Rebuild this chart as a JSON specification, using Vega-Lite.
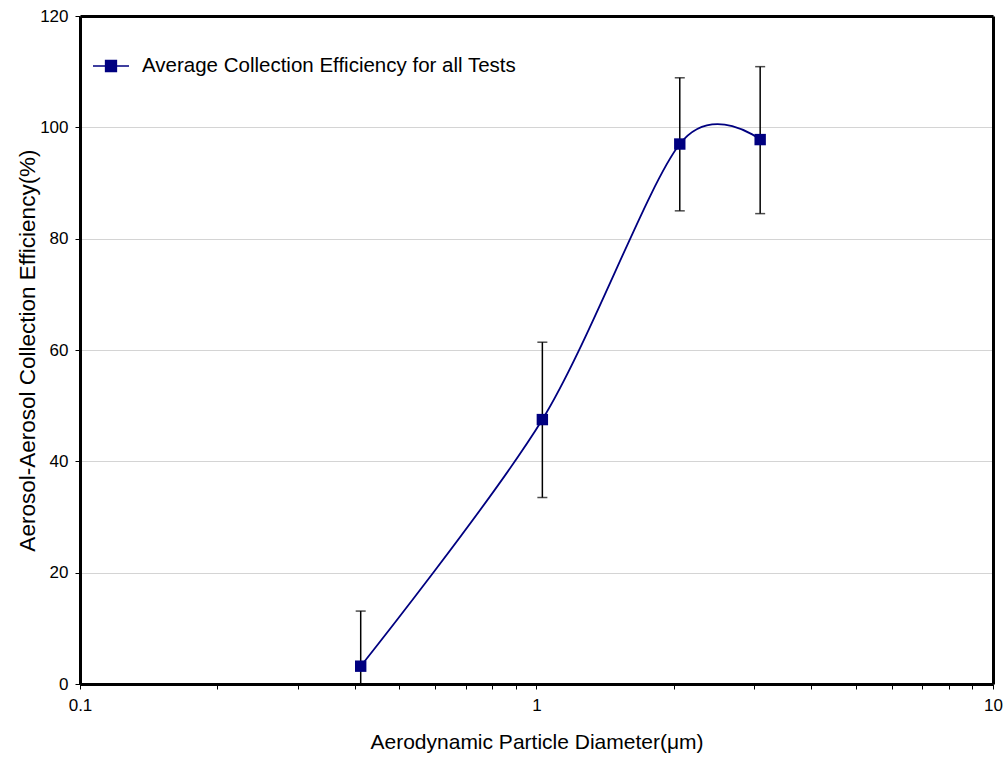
{
  "$schema": "https://vega.github.io/schema/vega-lite/v6.json",
  "autosize": {"type": "none"},
  "padding": {"left": 80, "top": 16, "right": 12, "bottom": 73},
  "width": 913,
  "height": 668,
  "background": "white",
  "config": {
    "font": "Liberation Sans",
    "view": {"stroke": null},
    "axis": {
      "domain": true,
      "domainColor": "#000000",
      "domainWidth": 3,
      "tickColor": "#000000",
      "tickSize": 5,
      "tickWidth": 1,
      "labelColor": "#000000",
      "titleColor": "#000000",
      "labelFont": "Liberation Sans",
      "titleFont": "Liberation Sans",
      "titleFontWeight": "normal",
      "labelFontSize": 17
    }
  },
  "data": {
    "values": [
      {"series": "Average Collection Efficiency for all Tests", "d": 0.412, "e": 3.2, "lo": -7, "hi": 13.1},
      {"series": "Average Collection Efficiency for all Tests", "d": 1.03, "e": 47.5, "lo": 33.5, "hi": 61.4},
      {"series": "Average Collection Efficiency for all Tests", "d": 2.06, "e": 97.0, "lo": 85.0, "hi": 108.9},
      {"series": "Average Collection Efficiency for all Tests", "d": 3.09, "e": 97.8, "lo": 84.5, "hi": 110.9}
    ]
  },
  "resolve": {"axis": {"x": "independent", "y": "independent"}},
  "layer": [
    {
      "mark": {"type": "rule", "color": "#000000", "strokeWidth": 1.5, "clip": true},
      "encoding": {
        "x": {
          "field": "d",
          "type": "quantitative",
          "scale": {"type": "log", "domain": [0.1, 10], "nice": false},
          "axis": {
            "orient": "bottom",
            "title": "Aerodynamic Particle Diameter(μm)",
            "titleFontSize": 21,
            "titlePadding": 18,
            "labelPadding": 8,
            "grid": false,
            "values": [0.1, 0.2, 0.3, 0.4, 0.5, 0.6, 0.7, 0.8, 0.9, 1, 2, 3, 4, 5, 6, 7, 8, 9, 10],
            "labelExpr": "datum.value == 0.1 ? '0.1' : datum.value == 1 ? '1' : datum.value == 10 ? '10' : ''",
            "labelFlush": false,
            "labelOverlap": false
          }
        },
        "y": {
          "field": "lo",
          "type": "quantitative",
          "scale": {"domain": [0, 120], "nice": false},
          "axis": {
            "orient": "left",
            "title": "Aerosol-Aerosol Collection Efficiency(%)",
            "titleFontSize": 22.5,
            "titlePadding": 0,
            "labelPadding": 7,
            "values": [0, 20, 40, 60, 80, 100, 120],
            "grid": true,
            "gridColor": "#d4d4d4",
            "gridWidth": 1
          }
        },
        "y2": {"field": "hi"}
      }
    },
    {
      "mark": {"type": "tick", "color": "#000000", "thickness": 1.5, "size": 10, "orient": "horizontal", "clip": true},
      "encoding": {
        "x": {
          "field": "d",
          "type": "quantitative",
          "axis": {"orient": "top", "labels": false, "ticks": false, "title": null, "grid": false}
        },
        "y": {
          "field": "hi",
          "type": "quantitative",
          "axis": {"orient": "right", "labels": false, "ticks": false, "title": null, "grid": false}
        }
      }
    },
    {
      "mark": {"type": "tick", "color": "#000000", "thickness": 1.5, "size": 10, "orient": "horizontal", "clip": true},
      "encoding": {
        "x": {"field": "d", "type": "quantitative", "axis": null},
        "y": {"field": "lo", "type": "quantitative", "axis": null}
      }
    },
    {
      "mark": {"type": "line", "color": "#000080", "strokeWidth": 1.8, "interpolate": "cardinal", "tension": 0.1},
      "encoding": {
        "x": {"field": "d", "type": "quantitative", "axis": null},
        "y": {"field": "e", "type": "quantitative", "axis": null}
      }
    },
    {
      "mark": {"type": "point", "shape": "square", "filled": true, "opacity": 1, "size": 130},
      "encoding": {
        "x": {"field": "d", "type": "quantitative", "axis": null},
        "y": {"field": "e", "type": "quantitative", "axis": null},
        "color": {
          "field": "series",
          "type": "nominal",
          "scale": {"range": ["#000080"]},
          "legend": {
            "title": null,
            "orient": "none",
            "legendX": 12,
            "legendY": 31,
            "padding": 0,
            "symbolType": "M-1,0L1,0M-0.3,-0.3L0.3,-0.3L0.3,0.3L-0.3,0.3Z",
            "symbolSize": 1296,
            "symbolStrokeColor": "#000080",
            "symbolFillColor": "#000080",
            "symbolStrokeWidth": 1.5,
            "symbolOpacity": 1,
            "labelFontSize": 20.5,
            "labelFont": "Liberation Sans",
            "labelColor": "#000000",
            "labelOffset": 12,
            "labelLimit": 600
          }
        }
      }
    }
  ]
}
